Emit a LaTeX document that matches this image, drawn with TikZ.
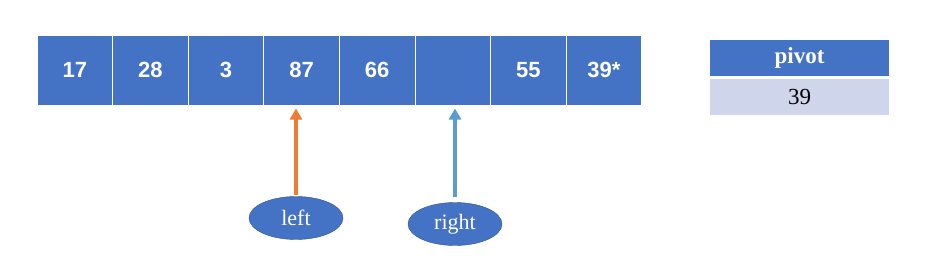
\documentclass[tikz,border=0pt]{standalone}
\usepackage{fontspec}
\setmainfont{Liberation Serif}
\setsansfont{Liberation Sans}
\usetikzlibrary{arrows.meta,positioning,shapes.geometric}
\definecolor{cellblue}{HTML}{4472C4}
\definecolor{rowgray}{HTML}{CFD5EA}
\definecolor{ptrorange}{HTML}{ED7D31}
\definecolor{ptrblue}{HTML}{5B9BD5}
\definecolor{edgeblue}{HTML}{2F528F}

\begin{document}
\begin{tikzpicture}[x=1pt, y=-1pt, >={Triangle[width=12pt,length=11pt]}]
% Stili per celle, puntatori ed etichette
\tikzset{cell/.style={fill=cellblue, draw=white, line width=1pt, minimum width=75.6pt, minimum height=70pt, inner sep=0pt, text=white, font=\sffamily\bfseries\fontsize{22}{22}\selectfont},
  ptr/.style={->, line width=3.5pt},
  tag/.style={ellipse, fill=cellblue, draw=edgeblue, thin, minimum width=94pt, minimum height=43pt, inner sep=0pt, text=white, font=\fontsize{22}{22}\selectfont},
  headbox/.style={fill=cellblue, minimum width=179pt, minimum height=36pt, inner sep=0pt, text=white, font=\bfseries\fontsize{23}{23}\selectfont},
  valbox/.style={fill=rowgray, minimum width=179pt, minimum height=36pt, inner sep=0pt, font=\fontsize{23}{23}\selectfont}}

\useasboundingbox (0,0) rectangle (937,265);

% --- ARRAY ---
\foreach \v [count=\i] in {17,28,3,87,66,{},55,39*}
  \node[cell] (c\i) at ({37+(\i-0.5)*75.6},70) {\v};

% --- PUNTATORI ---
\node[tag] (left) at (296,218) {left};
\node[tag] (right) at (455,224) {right};
\draw[ptr, ptrorange, shorten <=1pt, shorten >=3pt] (left.north) -- (left.north |- c4.south);
\draw[ptr, ptrblue, shorten <=5pt, shorten >=3pt] (right.north) -- (right.north |- c6.south);

% --- TABELLA PIVOT ---
\node[headbox] (pivot) at (799.5,58) {pivot};
\node[valbox, below=3pt of pivot] (pval) {39};

\end{tikzpicture}
\end{document}
